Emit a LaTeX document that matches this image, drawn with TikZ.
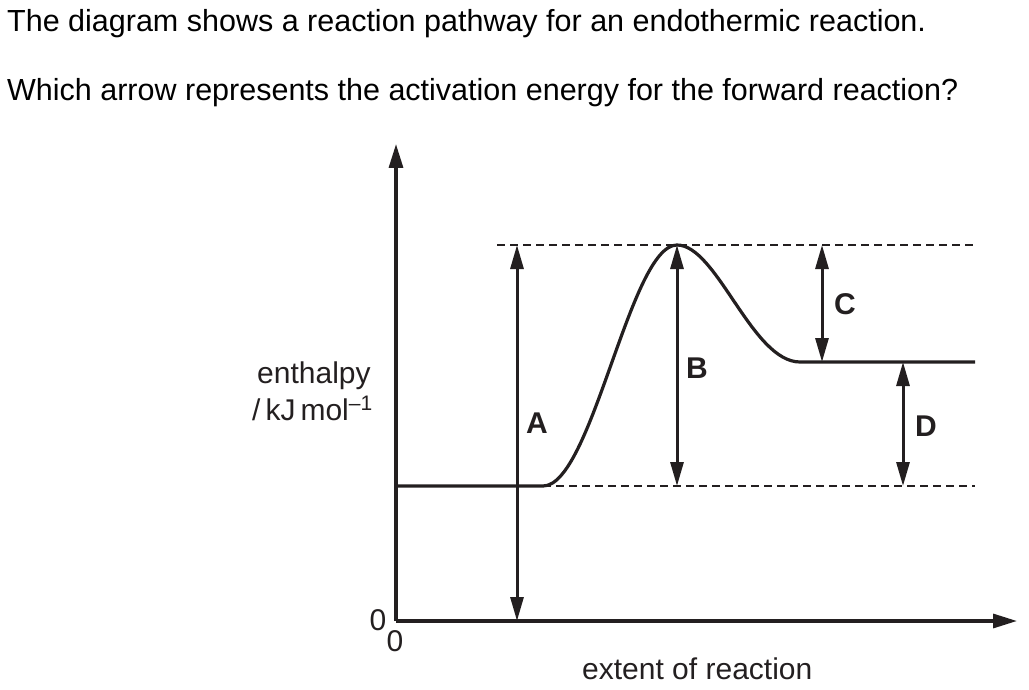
\documentclass[tikz,border=0pt]{standalone}
\usepackage{fontspec}
\setmainfont{Liberation Sans}
\usetikzlibrary{arrows.meta}
\definecolor{ink}{RGB}{35,31,32}
\tikzset{
  titletext/.style={anchor=base west, inner sep=0pt, font=\fontsize{30.5}{34}\selectfont, text=black},
  labeltext/.style={inner sep=0pt, font=\fontsize{30}{34}\selectfont, text=ink},
  lettertext/.style={inner sep=0pt, font=\bfseries\fontsize{30}{34}\selectfont, text=ink},
  axis/.style={draw=ink, line width=3.2pt, -{Triangle[length=24pt,width=14pt]}},
  level/.style={draw=ink, line width=3.2pt},
  dbl/.style={draw=ink, line width=3pt, {Triangle[length=24pt,width=13pt]}-{Triangle[length=24pt,width=13pt]}},
  guide/.style={draw=ink, line width=1.2pt, dash pattern=on 8pt off 5pt}
}
\begin{document}
\begin{tikzpicture}[x=1pt,y=-1pt]
\useasboundingbox (0,0) rectangle (1029,690);
% title
\node[titletext] (t1) at (7,32) {The diagram shows a reaction pathway for an endothermic reaction.};
\node[titletext] (t2) at (7,101) {Which arrow represents the activation energy for the forward reaction?};
% key coordinates
\coordinate (O) at (396,621);
\coordinate (ytop) at (396,144);
\coordinate (xend) at (1017,621);
\coordinate (r0) at (396,486);
\coordinate (r1) at (543,486);
\coordinate (pk) at (677,245);
\coordinate (p0) at (800,362);
\coordinate (p1) at (975,362);
\coordinate (dt0) at (497,245);
\coordinate (dt1) at (975,245);
\coordinate (db1) at (975,486);
% dashed guides
\draw[guide] (dt0) -- (dt1);
\draw[guide] (r1) -- (db1);
% axes
\draw[axis] (O) -- (ytop);
\draw[axis] (O) -- (xend);
% pathway
\draw[level] (r0) -- (r1) .. controls (592,486) and (630,245) .. (pk) .. controls (717,245) and (752,362) .. (p0) -- (p1);
% arrows
\coordinate (Atop) at (517,245);
\coordinate (Abot) at (517,621);
\coordinate (Bbot) at (677,486);
\coordinate (Ctop) at (822,245);
\coordinate (Cbot) at (822,362);
\coordinate (Dtop) at (903,362);
\coordinate (Dbot) at (903,486);
\draw[dbl] (Abot) -- (Atop);
\draw[dbl] (Bbot) -- (pk);
\draw[dbl] (Cbot) -- (Ctop);
\draw[dbl] (Dbot) -- (Dtop);
% letters
\node[lettertext] (la) at (537,423) {A};
\node[lettertext] (lb) at (697,368) {B};
\node[lettertext] (lc) at (845,304) {C};
\node[lettertext] (ld) at (926,426) {D};
% axis labels
\node[labeltext, anchor=base west] (en) at (257,383) {enthalpy};
\node[labeltext, anchor=base west] (un) at (252,420) {/\,kJ\,mol\textsuperscript{–1}};
\node[labeltext] (z1) at (378,620) {0};
\node[labeltext] (z2) at (395,641) {0};
\node[labeltext, anchor=base west] (xl) at (582,679) {extent of reaction};
\end{tikzpicture}
\end{document}
